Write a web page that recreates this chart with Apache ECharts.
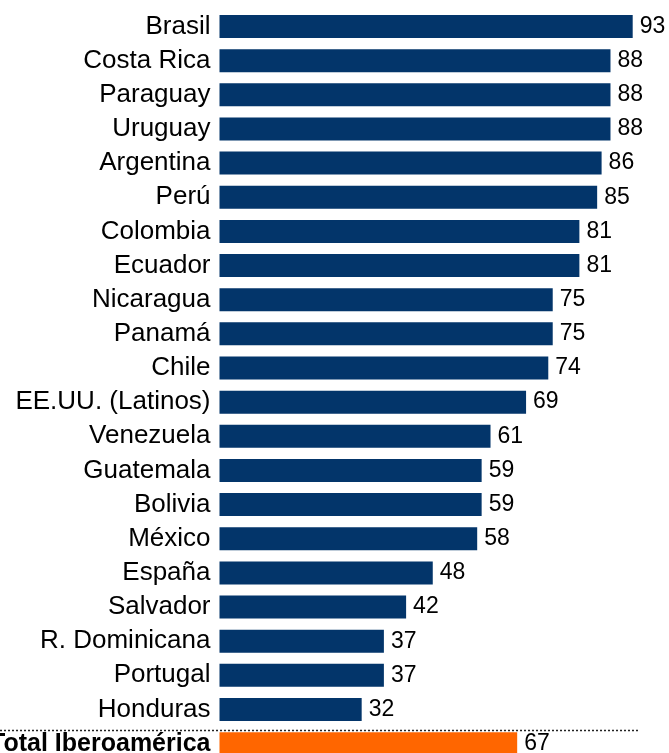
<!DOCTYPE html>
<html>
<head>
<meta charset="utf-8">
<script src="https://cdn.jsdelivr.net/npm/echarts@6/dist/echarts.min.js"></script>
<style>
html,body{margin:0;padding:0;background:#fff;}
#chart{width:669px;height:753px;}
</style>
</head>
<body>
<div id="chart"></div>
<script>
const categories = ["Brasil","Costa Rica","Paraguay","Uruguay","Argentina","Perú","Colombia","Ecuador","Nicaragua","Panamá","Chile","EE.UU. (Latinos)","Venezuela","Guatemala","Bolivia","México","España","Salvador","R. Dominicana","Portugal","Honduras","Total Iberoamérica"];
const values = [93,88,88,88,86,85,81,81,75,75,74,69,61,59,59,58,48,42,37,37,32,67];
const totalCategory = "Total Iberoamérica";

const NAVY = "#03356a";
const ORANGE = "#ff6600";
const FONT = "'Liberation Sans', Arial, sans-serif";

const chart = echarts.init(document.getElementById('chart'), null, {renderer:'canvas'});
const data = values.map((v, i) => ({
  value: v,
  itemStyle: { color: categories[i] === totalCategory ? ORANGE : NAVY }
}));

chart.setOption({
  animation: false,
  backgroundColor: '#ffffff',
  grid: { left: 219.5, top: 9.4, width: 444.3, height: 751.3, containLabel: false, outerBoundsMode: 'none' },
  xAxis: { type: 'value', min: 0, max: 100, show: false },
  yAxis: {
    type: 'category',
    data: categories,
    inverse: true,
    axisLine: { show: false },
    axisTick: { show: false },
    splitLine: { show: false },
    axisLabel: {
      margin: 9,
      color: '#000',
      fontFamily: FONT,
      fontSize: 26,
      hideOverlap: false,
      formatter: function (v) { return v === totalCategory ? '{b|' + v + '}' : v; },
      rich: { b: { fontWeight: 'bold', fontSize: 25, color: '#000', fontFamily: FONT } }
    }
  },
  series: [{
    type: 'bar',
    data: data,
    barWidth: 23,
    label: {
      show: true,
      position: 'right',
      distance: 7,
      color: '#000',
      fontFamily: FONT,
      fontSize: 23
    }
  }]
});

const yTotal = chart.convertToPixel({ yAxisIndex: 0 }, totalCategory);
const yLine = Math.round(yTotal - 23 / 2 - 2) + 0.5;
chart.setOption({
  graphic: [{
    type: 'line',
    shape: { x1: 0, y1: yLine, x2: 639, y2: yLine },
    style: { stroke: '#222', lineWidth: 1.5, lineDash: [2, 2] },
    z: 10
  }]
});
</script>
</body>
</html>
